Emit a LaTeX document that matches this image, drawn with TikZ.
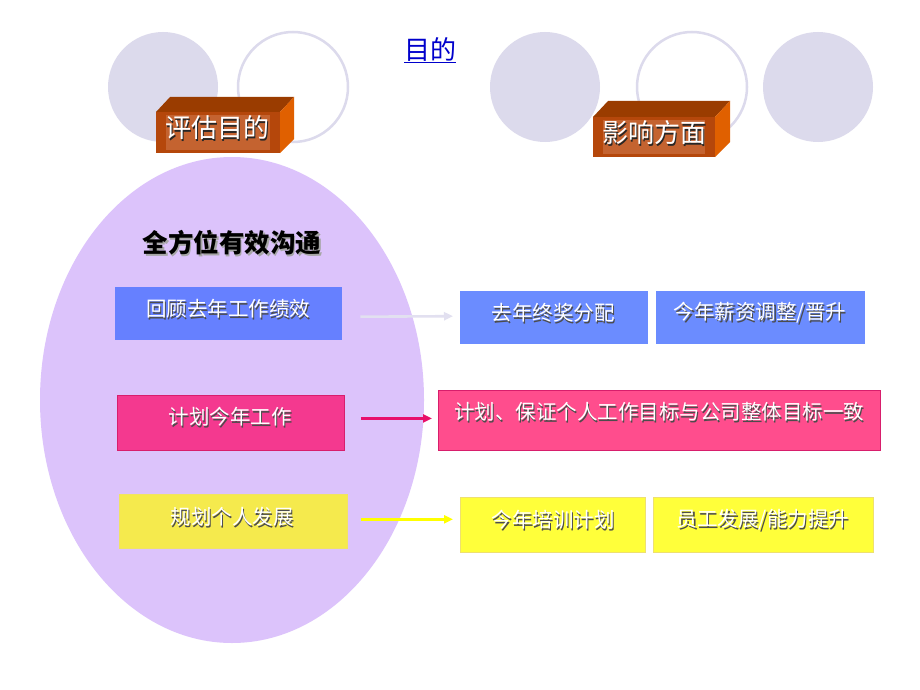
\documentclass[tikz,border=0pt]{standalone}
\usepackage{fontspec}
\newfontfamily\cjk{Noto Sans CJK SC}
\usetikzlibrary{calc,arrows.meta}
\definecolor{lav}{HTML}{DCDAEC}
\definecolor{ell}{HTML}{DCC3FB}
\definecolor{blueL}{HTML}{6680FF}
\definecolor{blueR}{HTML}{6B8CFF}
\definecolor{pinkL}{HTML}{F4398F}
\definecolor{pinkLb}{HTML}{D81E6C}
\definecolor{pinkR}{HTML}{FF4D8D}
\definecolor{yelL}{HTML}{F5EA4D}
\definecolor{yelR}{HTML}{FFFF3A}
\definecolor{yelRb}{HTML}{EEE070}
\definecolor{brFront}{HTML}{B5470B}
\definecolor{brInner}{HTML}{C86A3A}
\definecolor{brTop}{HTML}{9A3C00}
\definecolor{brSide}{HTML}{E06000}
\definecolor{arrA}{HTML}{E2E0F0}
\definecolor{arrB}{HTML}{E8106A}
\definecolor{arrC}{HTML}{FFFF00}
\definecolor{titleblue}{HTML}{0000CC}
\tikzset{
  box/.style={draw=none, minimum width=#1, inner sep=0pt, anchor=north west},
  txt/.style={font=\cjk\fontsize{20.5}{22}\selectfont, text=white, inner sep=0pt},
  shd/.style={font=\cjk\fontsize{20.5}{22}\selectfont, text=black!70, inner sep=0pt},
  bigtxt/.style={font=\cjk\fontsize{26}{28}\selectfont, text=white, inner sep=0pt},
  bigshd/.style={font=\cjk\fontsize{26}{28}\selectfont, text=black!85, inner sep=0pt},
  conn/.style={line width=2.6pt, -{Triangle[length=9pt,width=8pt]}},
}
\begin{document}
\begin{tikzpicture}[x=1pt,y=-1pt]
\path[use as bounding box, fill=white] (0,0) rectangle (920,690);
% circles
\fill[lav] (163,87) circle (55);
\draw[lav, line width=2.5pt] (293,87) circle (55);
\fill[lav] (545,87) circle (55);
\draw[lav, line width=2.5pt] (692,87) circle (55);
\fill[lav] (818,87) circle (55);
% title
\node[font=\cjk\fontsize{26}{28}\selectfont, text=titleblue, inner sep=0pt] (title) at (430,50) {\underline{目的}};
% 3D box 1
\fill[brTop] (156,112) -- (170,97) -- (294,97) -- (280,112) -- cycle;
\fill[brSide] (280,112) -- (294,97) -- (294,139) -- (280,153) -- cycle;
\fill[brFront] (156,112) rectangle (280,153);
\fill[brInner, opacity=0.8] (166,115) rectangle (270,150);
\node[bigshd] at (218.8,129.8) {评估目的};
\node[bigtxt] (evalT) at (217,128) {评估目的};
% 3D box 2
\fill[brTop] (593,117) -- (608,101) -- (730,101) -- (715,117) -- cycle;
\fill[brSide] (715,117) -- (730,101) -- (730,142) -- (715,157) -- cycle;
\fill[brFront] (593,117) rectangle (715,157);
\fill[brInner, opacity=0.8] (603,120) rectangle (705,154);
\node[bigshd] at (655.8,134.8) {影响方面};
\node[bigtxt] (impT) at (654,133) {影响方面};
% ellipse
\fill[ell] (232,400) ellipse [x radius=192, y radius=243];
\node[font=\cjk\bfseries\fontsize{25.5}{27}\selectfont, text=black!35, inner sep=0pt] at (233.5,244.5) {全方位有效沟通};
\node[font=\cjk\bfseries\fontsize{25.5}{27}\selectfont, text=black, inner sep=0pt] (comm) at (232,243) {全方位有效沟通};
% left boxes
\node[box=227pt, minimum height=53pt, fill=blueL] (b1) at (115,287) {};
\node[box=227pt, minimum height=55pt, fill=pinkL, draw=pinkLb, line width=0.8pt] (b2) at (117,395) {};
\node[box=228pt, minimum height=54pt, fill=yelL, draw=yelRb!60!yelL, line width=0.6pt] (b3) at (119,494) {};
% right boxes
\node[box=188pt, minimum height=53pt, fill=blueR] (r1) at (460,291) {};
\node[box=209pt, minimum height=53pt, fill=blueR] (r2) at (656,291) {};
\node[box=442pt, minimum height=60pt, fill=pinkR, draw=pinkLb, line width=0.8pt] (r3) at (438,390) {};
\node[box=185pt, minimum height=55pt, fill=yelR, draw=yelRb, line width=0.6pt] (r4) at (460,497) {};
\node[box=220pt, minimum height=55pt, fill=yelR, draw=yelRb, line width=0.6pt] (r5) at (653,497) {};
% texts
\foreach \nm/\x/\y/\t in {t1/228/309/{回顾去年工作绩效}, t2/230/417/{计划今年工作}, t3/232/517/{规划个人发展},
  t4/553/313/{去年终奖分配}, t5/760/313/{今年薪资调整/晋升}, t6/659/412/{计划、保证个人工作目标与公司整体目标一致},
  t7/553/520/{今年培训计划}, t8/763/520/{员工发展/能力提升}} {
  \node[shd] at (\x+1.4,\y+1.4) {\t};
  \node[txt] (\nm) at (\x,\y) {\t};
}
% connectors
\draw[conn, arrA] ($(b1.east)+(18,3)$) -- ($(r1.west)+(-7,-1.5)$);
\draw[conn, arrB] ($(b2.east)+(16,-4.5)$) -- ($(r3.west)+(-6,-2)$);
\draw[conn, arrC] ($(b3.east)+(13,-2)$) -- ($(r4.west)+(-7,-5.5)$);
\end{tikzpicture}
\end{document}
